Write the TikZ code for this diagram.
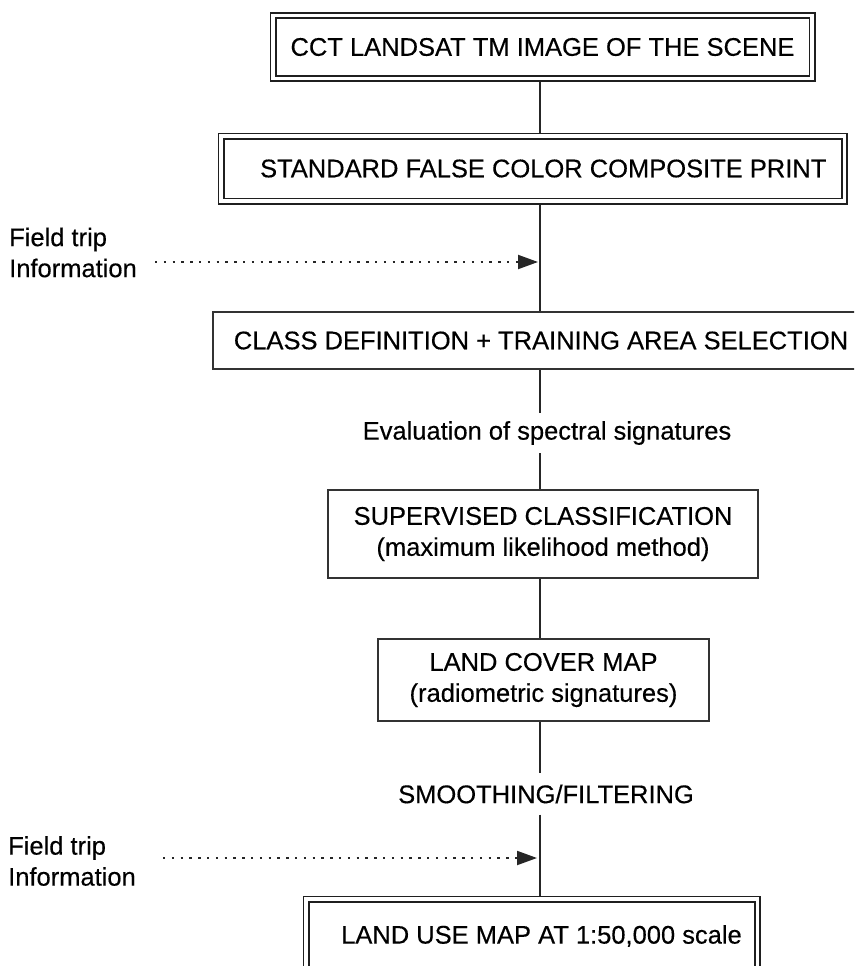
\documentclass[tikz,border=0pt]{standalone}
\usepackage{fontspec}
\setmainfont{Liberation Sans}[FakeBold=0.35]
\usetikzlibrary{arrows.meta}
\begin{document}
\begin{tikzpicture}[x=1pt,y=-1pt,
  every node/.style={font=\fontsize{25.5}{31}\selectfont, text=black, inner sep=0pt},
  dbox/.style={draw=black!88, line width=1.8pt, double, double distance=3.4pt, outer sep=3.5pt},
  sbox/.style={draw=black!80, line width=2pt, align=center, outer sep=1pt},
  lbl/.style={inner xsep=4pt},
  conn/.style={draw=black!85, line width=1.6pt},
  dotarrow/.style={draw=black!85, line width=2pt, dash pattern=on 2.4pt off 6.4pt, -{Triangle[length=20pt,width=14pt]}},
]
\useasboundingbox (0,0) rectangle (854,966);
\clip (0,0) rectangle (854,966);
\fill[white] (0,0) rectangle (854,966);
\coordinate (spine) at (540,0);

% boxes
\node[dbox, minimum width=539pt, minimum height=63pt] (b1) at (542.5,47) {CCT LANDSAT TM IMAGE OF THE SCENE};
\node[dbox, minimum width=623.5pt, minimum height=65pt] (b2) at (532.75,168.5) {\hspace*{21pt}STANDARD FALSE COLOR COMPOSITE PRINT};
\node[sbox, minimum width=656pt, minimum height=57pt] (b3) at (541,340.5) {CLASS DEFINITION + TRAINING AREA SELECTION};
\node[lbl, inner ysep=8pt] (ev) at (547,433) {Evaluation of spectral signatures};
\node[sbox, minimum width=430pt, minimum height=88pt] (b4) at (543,534) {SUPERVISED CLASSIFICATION\\(maximum likelihood method)};
\node[sbox, minimum width=331pt, minimum height=82pt] (b5) at (543.5,680) {LAND COVER MAP\\(radiometric signatures)};
\node[lbl, inner ysep=11pt] (sm) at (546,794) {SMOOTHING/FILTERING};
\node[dbox, minimum width=451.5pt, minimum height=74pt] (b6) at (531.75,936) {\hspace*{19.5pt}LAND USE MAP AT 1:50,000 scale};

% side inputs
\node[align=left, anchor=west] (ft1) at (9,252.5) {Field trip\\Information};
\node[align=left, anchor=west] (ft2) at (8,861) {Field trip\\Information};
\coordinate (fs1) at (155,262);
\coordinate (fe1) at (538,262);
\coordinate (fs2) at (163,858);
\coordinate (fe2) at (537,858);

% connectors
\draw[conn] (b1.south -| spine) -- (b2.north -| spine);
\draw[conn] (b2.south -| spine) -- (b3.north -| spine);
\draw[conn] (b3.south -| spine) -- (ev.north -| spine);
\draw[conn] (ev.south -| spine) -- (b4.north -| spine);
\draw[conn] (b4.south -| spine) -- (b5.north -| spine);
\draw[conn] (b5.south -| spine) -- (sm.north -| spine);
\draw[conn] (sm.south -| spine) -- (b6.north -| spine);
\draw[dotarrow] (fs1) -- (fe1);
\draw[dotarrow] (fs2) -- (fe2);
\end{tikzpicture}
\end{document}
